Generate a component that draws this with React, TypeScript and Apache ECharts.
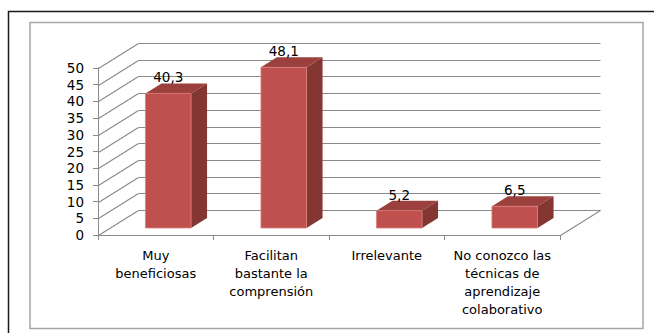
import React, { useEffect, useRef } from "react";
import * as echarts from "echarts";

const categories = [
  "Muy\nbeneficiosas",
  "Facilitan\nbastante la\ncomprensión",
  "Irrelevante",
  "No conozco las\ntécnicas de\naprendizaje\ncolaborativo",
];
const values = [40.3, 48.1, 5.2, 6.5];
const yTicks = [0, 5, 10, 15, 20, 25, 30, 35, 40, 45, 50];

const FONT = "'DejaVu Sans', sans-serif";
const GRID_COLOR = "#8a8a8a";
// depth of the 3D wall
const WALL_DX = 40;
const WALL_DY = -25;
// bar offset inside depth and bar depth
const BAR_OFF_X = 12.5;
const BAR_OFF_Y = -7;
const BAR_DEP_X = 16;
const BAR_DEP_Y = -10;

function fmt(v: number) {
  return v.toFixed(1).replace(".", ",");
}

export default function App() {
  const ref = useRef<HTMLDivElement>(null);
  useEffect(() => {
    if (!ref.current) return;
    const chart = echarts.init(ref.current, null, { renderer: "svg" });
    const option: any = {
      animation: false,
      backgroundColor: "#ffffff",
      graphic: [
        {
          type: "rect",
          shape: { x: 8.5, y: 11.5, width: 700, height: 400 },
          style: { fill: "none", stroke: "#1a1a1a", lineWidth: 1.5 },
          silent: true,
          z: 0,
        },
        {
          type: "rect",
          shape: { x: 30, y: 22.5, width: 613, height: 306 },
          style: { fill: "none", stroke: "#a6a6a6", lineWidth: 1.5 },
          silent: true,
          z: 0,
        },
      ],
      grid: { left: 98, right: 94, top: 68, bottom: 98, containLabel: false },
      xAxis: {
        type: "category",
        data: categories,
        axisLine: { show: true, lineStyle: { color: GRID_COLOR, width: 1 } },
        axisTick: { show: true, length: 5, lineStyle: { color: GRID_COLOR } },
        axisLabel: {
          interval: 0,
          color: "#000",
          fontFamily: FONT,
          fontSize: 13,
          lineHeight: 18,
          margin: 11,
        },
        splitLine: { show: false },
      },
      yAxis: {
        type: "value",
        min: 0,
        max: 50,
        interval: 5,
        axisLine: { show: true, lineStyle: { color: GRID_COLOR, width: 1 } },
        axisTick: { show: true, length: 5, lineStyle: { color: GRID_COLOR } },
        axisLabel: { color: "#000", fontFamily: FONT, fontSize: 13.5, margin: 14 },
        splitLine: { show: false },
      },
      series: [
        {
          type: "custom",
          z: 1,
          silent: true,
          data: yTicks.map((t) => [0, t]),
          encode: { x: 0, y: 1 },
          renderItem: (params: any, api: any) => {
            const cs = params.coordSys;
            const v = api.value(1);
            const y = Math.round(api.coord([0, v])[1]) + 0.5;
            const left = Math.round(cs.x) + 0.5;
            const right = Math.round(cs.x + cs.width) + 0.5;
            const style = { stroke: GRID_COLOR, lineWidth: 1.1, fill: null };
            const children: any[] = [
              {
                type: "line",
                shape: { x1: left, y1: y, x2: left + WALL_DX, y2: y + WALL_DY },
                style,
              },
              {
                type: "line",
                shape: {
                  x1: left + WALL_DX,
                  y1: y + WALL_DY,
                  x2: right + WALL_DX,
                  y2: y + WALL_DY,
                },
                style,
              },
            ];
            if (v === 0) {
              children.push({
                type: "line",
                shape: { x1: right, y1: y, x2: right + WALL_DX, y2: y + WALL_DY },
                style,
              });
            }
            return { type: "group", children };
          },
        },
        {
          type: "custom",
          z: 2,
          silent: true,
          data: values.map((v, i) => [i, v]),
          encode: { x: 0, y: 1 },
          renderItem: (params: any, api: any) => {
            const idx = api.value(0);
            const val = api.value(1);
            const top = api.coord([idx, val]);
            const base = api.coord([idx, 0]);
            const band = api.size([1, 0])[0];
            const w = band * 0.395;
            const x0 = top[0] - w / 2 + BAR_OFF_X;
            const x1 = x0 + w;
            const yt = top[1] + BAR_OFF_Y;
            const yb = base[1] + BAR_OFF_Y;
            return {
              type: "group",
              children: [
                {
                  type: "polygon",
                  shape: {
                    points: [
                      [x0, yt],
                      [x1, yt],
                      [x1 + BAR_DEP_X, yt + BAR_DEP_Y],
                      [x0 + BAR_DEP_X, yt + BAR_DEP_Y],
                    ],
                  },
                  style: { fill: "#9c403d" },
                },
                {
                  type: "polygon",
                  shape: {
                    points: [
                      [x1, yt],
                      [x1 + BAR_DEP_X, yt + BAR_DEP_Y],
                      [x1 + BAR_DEP_X, yb + BAR_DEP_Y],
                      [x1, yb],
                    ],
                  },
                  style: { fill: "#843633" },
                },
                {
                  type: "rect",
                  shape: { x: x0, y: yt, width: w, height: yb - yt },
                  style: { fill: "#c0504d", stroke: "#d9807e", lineWidth: 0.8 },
                },
                {
                  type: "text",
                  x: x0 + w / 2,
                  y: yt + BAR_DEP_Y - 6,
                  style: {
                    text: fmt(val),
                    align: "center",
                    verticalAlign: "middle",
                    fill: "#000",
                    fontFamily: FONT,
                    fontSize: 13.5,
                  },
                },
              ],
            };
          },
        },
      ],
    };
    chart.setOption(option);
    return () => chart.dispose();
  }, []);
  return (
    <div
      ref={ref}
      style={{ position: "absolute", left: 0, top: 0, width: 654, height: 333 }}
    />
  );
}
